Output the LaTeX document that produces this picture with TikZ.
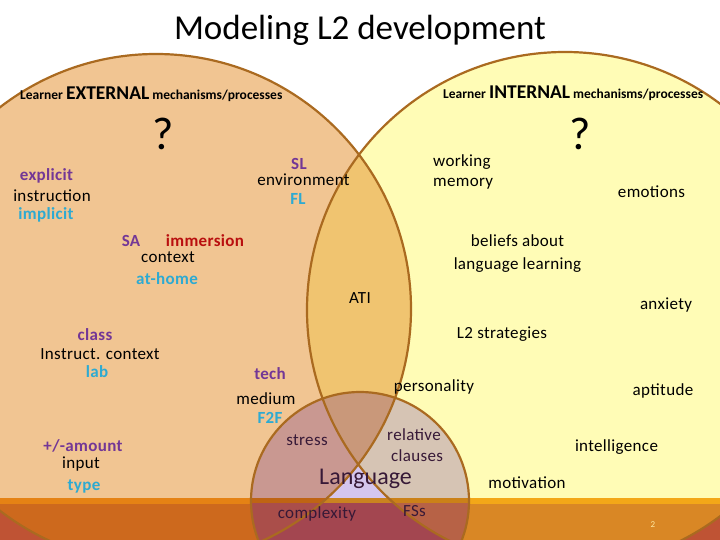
\documentclass[tikz,border=0pt]{standalone}
\usepackage{fontspec}
\setmainfont{Carlito}
\newfontfamily\lblfont[LetterSpace=2]{Carlito}
\definecolor{peach}{RGB}{241,197,146}
\definecolor{lyellow}{RGB}{255,252,182}
\definecolor{lenscol}{RGB}{240,196,112}
\definecolor{rim}{RGB}{170,106,32}
\definecolor{lav}{RGB}{212,198,238}
\definecolor{mauve}{RGB}{201,152,145}
\definecolor{greyrose}{RGB}{214,196,180}
\definecolor{lenstint}{RGB}{201,152,122}
\definecolor{bandpre}{RGB}{225,155,255}
\definecolor{bandmul}{RGB}{217,137,52}
\definecolor{stripemul}{RGB}{243,169,35}
\definecolor{langband}{RGB}{163,70,80}
\definecolor{langbandL}{RGB}{170,78,74}
\definecolor{langbandR}{RGB}{183,98,70}
\definecolor{cpurple}{RGB}{115,55,150}
\definecolor{ccyan}{RGB}{45,170,210}
\definecolor{cred}{RGB}{185,15,15}
\definecolor{langtext}{RGB}{55,25,55}
\definecolor{pagenum}{RGB}{255,232,160}
\tikzset{
  lbl/.style={inner sep=0pt, anchor=base, font=\lblfont\fontsize{17}{20}\selectfont, text=black},
  lblp/.style={lbl, font=\lblfont\fontsize{17}{20}\selectfont\bfseries, text=cpurple},
  lblc/.style={lbl, font=\lblfont\fontsize{17}{20}\selectfont\bfseries, text=ccyan},
  lblr/.style={lbl, font=\lblfont\fontsize{17}{20}\selectfont\bfseries, text=cred},
  lbll/.style={lbl, text=langtext},
  rimline/.style={draw=rim, line width=2.2pt},
  qmark/.style={inner sep=0pt, font=\fontsize{46}{50}\selectfont},
}
\begin{document}
\begin{tikzpicture}[x=1pt,y=-1pt]
\path[use as bounding box] (0,0) rectangle (720,540);
\fill[white] (0,0) rectangle (720,540);
\fill[bandpre] (0,497.5) rectangle (720,540);
\coordinate (cL) at (156,309);
\coordinate (cR) at (565,310);
\coordinate (cG) at (360,501);
% big circles
\fill[peach] (cL) circle[radius=255pt];
\fill[lyellow] (cR) circle[radius=258pt];
\begin{scope}
  \clip (cL) circle[radius=255pt];
  \fill[lenscol] (cR) circle[radius=258pt];
\end{scope}
% language circle
\fill[lav] (cG) circle[radius=109pt];
\begin{scope}
  \clip (cL) circle[radius=255pt];
  \fill[mauve] (cG) circle[radius=109pt];
\end{scope}
\begin{scope}
  \clip (cR) circle[radius=258pt];
  \fill[greyrose] (cG) circle[radius=109pt];
\end{scope}
\begin{scope}
  \clip (cL) circle[radius=255pt];
  \clip (cR) circle[radius=258pt];
  \fill[lenstint] (cG) circle[radius=109pt];
\end{scope}
% bottom band
\begin{scope}[blend mode=multiply]
  \fill[stripemul] (0,497.5) rectangle (720,503.5);
  \fill[bandmul] (0,503.5) rectangle (720,540);
\end{scope}
\begin{scope}
  \clip (0,503.5) rectangle (720,540);
  \fill[langband] (cG) circle[radius=109pt];
  \begin{scope}
    \clip (cL) circle[radius=255pt];
    \fill[langbandL] (cG) circle[radius=109pt];
  \end{scope}
  \begin{scope}
    \clip (cR) circle[radius=258pt];
    \fill[langbandR] (cG) circle[radius=109pt];
  \end{scope}
\end{scope}
% outlines
\draw[rimline] (cL) circle[radius=255pt];
\draw[rimline] (cR) circle[radius=258pt];
\draw[rimline] (cG) circle[radius=109pt];
% title and headers
\node[inner sep=0pt, font=\fontsize{35}{40}\selectfont] (title) at (360,30) {Modeling L2 development};
\node[inner sep=0pt, anchor=base west] (hdrL) at (20,100) {\bfseries\fontsize{13.5}{16}\selectfont Learner \fontsize{19.5}{22}\selectfont EXTERNAL\fontsize{13.5}{16}\selectfont{} mechanisms/processes};
\node[inner sep=0pt, anchor=base west] (hdrR) at (443,98.5) {\bfseries\fontsize{13.5}{16}\selectfont Learner \fontsize{19.5}{22}\selectfont INTERNAL\fontsize{13.5}{16}\selectfont{} mechanisms/processes};
\node[qmark] (qL) at (163,134) {?};
\node[qmark] (qR) at (580,134) {?};
% external labels
\node[lblp] (explicit) at (46.5,181) {explicit};
\node[lbl] (instruction) at (52,202) {instruction};
\node[lblc] (implicit) at (46,220) {implicit};
\node[lblp] (SL) at (299,170) {SL};
\node[lbl] (environment) at (303.5,186) {environment};
\node[lblc] (FL) at (298,205) {FL};
\node[lblp] (SA) at (131,247) {SA};
\node[lblr] (immersion) at (205,247) {immersion};
\node[lbl] (context) at (168,262.7) {context};
\node[lblc] (athome) at (167,284) {at-home};
\node[lblp] (class) at (95,340.7) {class};
\node[lbl] (instruct) at (100,359) {Instruct. context};
\node[lblc] (lab) at (97,377) {lab};
\node[lblp] (tech) at (270,379) {tech};
\node[lbl] (medium) at (266,404) {medium};
\node[lblc] (F2F) at (270,423) {F2F};
\node[lblp] (amount) at (83,451.7) {+/-amount};
\node[lbl] (input) at (81,468) {input};
\node[lblc] (type) at (84,490) {type};
% shared
\node[lbl] (ATI) at (360,303) {ATI};
% internal labels
\node[lbl, anchor=base west] (working) at (433,167) {working};
\node[lbl, anchor=base west] (memory) at (433,187) {memory};
\node[lbl] (emotions) at (651.5,197) {emotions};
\node[lbl] (beliefs) at (517.5,247) {beliefs about};
\node[lbl] (langlearn) at (517.5,269) {language learning};
\node[lbl] (anxiety) at (666,309) {anxiety};
\node[lbl] (strategies) at (502,338) {L2 strategies};
\node[lbl] (personality) at (434,391.7) {personality};
\node[lbl] (aptitude) at (663,395) {aptitude};
\node[lbl] (intelligence) at (616.5,451.7) {intelligence};
\node[lbl] (motivation) at (527,488) {motivation};
% language circle labels
\node[lbll] (stress) at (307,445) {stress};
\node[lbll] (relative) at (414,440) {relative};
\node[lbll] (clauses) at (417,461.7) {clauses};
\node[lbll, font=\fontsize{24}{28}\selectfont] (language) at (365.5,484) {Language};
\node[lbll] (complexity) at (317,518) {complexity};
\node[lbll] (FSs) at (414.5,516.7) {FSs};
\node[inner sep=0pt, anchor=base, text=pagenum, font=\fontsize{9}{10}\selectfont] (pnum) at (653,527) {2};
\end{tikzpicture}
\end{document}
